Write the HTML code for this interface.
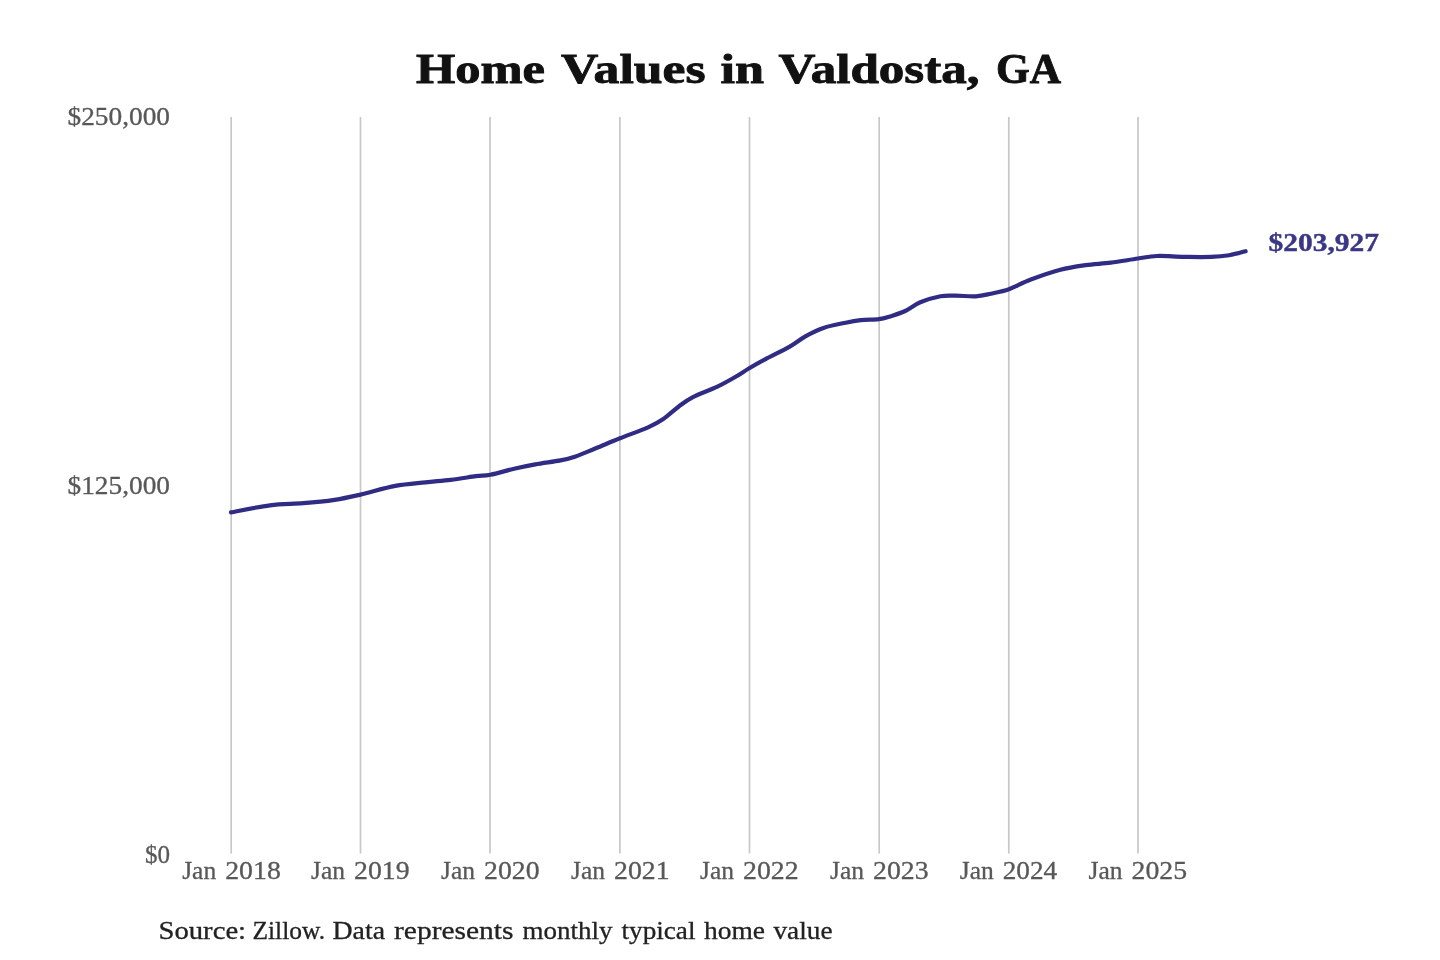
<!DOCTYPE html>
<html><head><meta charset="utf-8"><style>
html,body{margin:0;padding:0;background:#fff;width:1440px;height:960px;overflow:hidden}
svg{position:absolute;left:0;top:0;display:block;will-change:transform}
text{font-family:"Liberation Serif",serif}
</style></head><body>
<svg width="1440" height="960" viewBox="0 0 1440 960">
<rect width="1440" height="960" fill="#fff"/>
<g stroke="#c8c8c8" stroke-width="1.7">
<line x1="231.20" y1="117" x2="231.20" y2="853.5" />
<line x1="360.50" y1="117" x2="360.50" y2="853.5" />
<line x1="490.00" y1="117" x2="490.00" y2="853.5" />
<line x1="619.90" y1="117" x2="619.90" y2="853.5" />
<line x1="749.50" y1="117" x2="749.50" y2="853.5" />
<line x1="879.20" y1="117" x2="879.20" y2="853.5" />
<line x1="1008.80" y1="117" x2="1008.80" y2="853.5" />
<line x1="1138.00" y1="117" x2="1138.00" y2="853.5" />
</g>
<path d="M231.0 512.4 C237.5 511.2 257.9 506.8 270.0 505.3 C282.1 503.8 292.5 504.1 303.3 503.2 C314.1 502.3 325.1 501.2 334.6 499.8 C344.1 498.4 350.4 496.9 360.5 494.6 C370.6 492.3 384.5 487.9 395.3 485.9 C406.1 483.8 416.3 483.3 425.5 482.3 C434.7 481.3 442.3 480.8 450.7 479.8 C459.1 478.8 469.2 477.1 475.8 476.2 C482.4 475.3 483.8 476.0 490.4 474.7 C497.0 473.4 507.7 470.2 515.2 468.5 C522.7 466.8 527.8 465.8 535.3 464.4 C542.8 463.0 553.8 461.7 560.5 460.4 C567.2 459.1 569.7 458.4 575.6 456.4 C581.5 454.4 588.4 451.3 595.8 448.3 C603.2 445.3 611.2 441.8 620.0 438.3 C628.8 434.8 641.5 430.3 648.6 427.1 C655.8 423.9 657.9 422.7 662.9 419.3 C667.9 415.9 673.5 410.4 678.5 406.7 C683.5 403.0 686.5 400.4 692.9 397.1 C699.3 393.8 709.9 390.2 716.9 386.9 C723.9 383.6 729.4 380.4 734.8 377.3 C740.2 374.2 744.2 371.3 749.2 368.3 C754.2 365.3 758.4 362.9 765.1 359.3 C771.8 355.7 782.6 350.6 789.3 346.8 C796.0 343.0 799.7 339.5 805.4 336.3 C811.1 333.1 816.8 330.2 823.5 327.9 C830.2 325.6 839.5 324.0 845.7 322.7 C851.9 321.4 855.3 320.8 860.8 320.2 C866.3 319.6 874.0 319.8 878.9 319.2 C883.8 318.6 885.7 317.8 890.1 316.4 C894.5 315.0 900.2 313.4 905.2 311.0 C910.2 308.6 914.4 304.8 920.3 302.3 C926.2 299.9 934.6 297.4 940.5 296.3 C946.4 295.2 949.7 295.7 955.6 295.7 C961.5 295.7 969.8 296.6 975.7 296.3 C981.6 296.0 985.3 294.9 990.8 293.7 C996.3 292.5 1002.3 291.5 1008.9 289.2 C1015.5 286.9 1021.6 283.0 1030.2 279.8 C1038.8 276.6 1051.2 272.2 1060.4 269.8 C1069.6 267.4 1077.2 266.4 1085.6 265.2 C1094.0 264.0 1102.0 263.8 1110.7 262.7 C1119.4 261.6 1130.2 259.6 1137.9 258.5 C1145.6 257.4 1149.4 256.3 1157.1 256.0 C1164.8 255.7 1175.2 256.8 1184.2 256.9 C1193.2 257.0 1203.7 257.2 1211.2 256.9 C1218.7 256.6 1223.6 256.1 1229.3 255.2 C1235.0 254.2 1242.9 251.9 1245.6 251.2" fill="none" stroke="#302c84" stroke-width="4.2" stroke-linecap="round" stroke-linejoin="round"/>
<text x="416.0" y="83.0" font-size="43" font-weight="bold" fill="#111" stroke="#111" stroke-width="0.9" textLength="129.0" lengthAdjust="spacingAndGlyphs">Home</text>
<text x="561.0" y="83.0" font-size="43" font-weight="bold" fill="#111" stroke="#111" stroke-width="0.9" textLength="144.5" lengthAdjust="spacingAndGlyphs">Values</text>
<text x="720.5" y="83.0" font-size="43" font-weight="bold" fill="#111" stroke="#111" stroke-width="0.9" textLength="43.5" lengthAdjust="spacingAndGlyphs">in</text>
<text x="778.5" y="83.0" font-size="43" font-weight="bold" fill="#111" stroke="#111" stroke-width="0.9" textLength="201.0" lengthAdjust="spacingAndGlyphs">Valdosta,</text>
<text x="996.0" y="83.0" font-size="43" font-weight="bold" fill="#111" stroke="#111" stroke-width="0.9" textLength="65.0" lengthAdjust="spacingAndGlyphs">GA</text>
<text x="67.5" y="124.6" font-size="25" fill="#585858" stroke="#585858" stroke-width="0.3" textLength="102.5" lengthAdjust="spacingAndGlyphs">$250,000</text>
<text x="67.5" y="493.8" font-size="25" fill="#585858" stroke="#585858" stroke-width="0.3" textLength="102.5" lengthAdjust="spacingAndGlyphs">$125,000</text>
<text x="144.9" y="863.3" font-size="25" fill="#585858" stroke="#585858" stroke-width="0.3" textLength="25.1" lengthAdjust="spacingAndGlyphs">$0</text>
<text x="182.2" y="879.3" font-size="25" fill="#585858" stroke="#585858" stroke-width="0.3" textLength="34.0" lengthAdjust="spacingAndGlyphs">Jan</text>
<text x="225.2" y="879.3" font-size="25" fill="#585858" stroke="#585858" stroke-width="0.3" textLength="55.6" lengthAdjust="spacingAndGlyphs">2018</text>
<text x="311.0" y="879.3" font-size="25" fill="#585858" stroke="#585858" stroke-width="0.3" textLength="34.0" lengthAdjust="spacingAndGlyphs">Jan</text>
<text x="354.0" y="879.3" font-size="25" fill="#585858" stroke="#585858" stroke-width="0.3" textLength="55.6" lengthAdjust="spacingAndGlyphs">2019</text>
<text x="441.0" y="879.3" font-size="25" fill="#585858" stroke="#585858" stroke-width="0.3" textLength="34.0" lengthAdjust="spacingAndGlyphs">Jan</text>
<text x="484.0" y="879.3" font-size="25" fill="#585858" stroke="#585858" stroke-width="0.3" textLength="55.5" lengthAdjust="spacingAndGlyphs">2020</text>
<text x="571.0" y="879.3" font-size="25" fill="#585858" stroke="#585858" stroke-width="0.3" textLength="34.0" lengthAdjust="spacingAndGlyphs">Jan</text>
<text x="614.0" y="879.3" font-size="25" fill="#585858" stroke="#585858" stroke-width="0.3" textLength="55.6" lengthAdjust="spacingAndGlyphs">2021</text>
<text x="700.0" y="879.3" font-size="25" fill="#585858" stroke="#585858" stroke-width="0.3" textLength="34.0" lengthAdjust="spacingAndGlyphs">Jan</text>
<text x="743.0" y="879.3" font-size="25" fill="#585858" stroke="#585858" stroke-width="0.3" textLength="55.6" lengthAdjust="spacingAndGlyphs">2022</text>
<text x="830.0" y="879.3" font-size="25" fill="#585858" stroke="#585858" stroke-width="0.3" textLength="34.0" lengthAdjust="spacingAndGlyphs">Jan</text>
<text x="873.0" y="879.3" font-size="25" fill="#585858" stroke="#585858" stroke-width="0.3" textLength="55.6" lengthAdjust="spacingAndGlyphs">2023</text>
<text x="959.8" y="879.3" font-size="25" fill="#585858" stroke="#585858" stroke-width="0.3" textLength="34.0" lengthAdjust="spacingAndGlyphs">Jan</text>
<text x="1002.7" y="879.3" font-size="25" fill="#585858" stroke="#585858" stroke-width="0.3" textLength="54.5" lengthAdjust="spacingAndGlyphs">2024</text>
<text x="1088.5" y="879.3" font-size="25" fill="#585858" stroke="#585858" stroke-width="0.3" textLength="34.0" lengthAdjust="spacingAndGlyphs">Jan</text>
<text x="1131.5" y="879.3" font-size="25" fill="#585858" stroke="#585858" stroke-width="0.3" textLength="55.6" lengthAdjust="spacingAndGlyphs">2025</text>
<text x="1268.5" y="250.6" font-size="25" font-weight="bold" fill="#3a3785" stroke="#3a3785" stroke-width="0.4" textLength="110.5" lengthAdjust="spacingAndGlyphs">$203,927</text>
<text x="158.5" y="938.8" font-size="25" fill="#222" stroke="#222" stroke-width="0.3" textLength="87.6" lengthAdjust="spacingAndGlyphs">Source:</text>
<text x="252.5" y="938.8" font-size="25" fill="#222" stroke="#222" stroke-width="0.3" textLength="72.6" lengthAdjust="spacingAndGlyphs">Zillow.</text>
<text x="332.5" y="938.8" font-size="25" fill="#222" stroke="#222" stroke-width="0.3" textLength="52.5" lengthAdjust="spacingAndGlyphs">Data</text>
<text x="394.0" y="938.8" font-size="25" fill="#222" stroke="#222" stroke-width="0.3" textLength="119.5" lengthAdjust="spacingAndGlyphs">represents</text>
<text x="522.5" y="938.8" font-size="25" fill="#222" stroke="#222" stroke-width="0.3" textLength="90.0" lengthAdjust="spacingAndGlyphs">monthly</text>
<text x="621.5" y="938.8" font-size="25" fill="#222" stroke="#222" stroke-width="0.3" textLength="74.0" lengthAdjust="spacingAndGlyphs">typical</text>
<text x="704.0" y="938.8" font-size="25" fill="#222" stroke="#222" stroke-width="0.3" textLength="61.0" lengthAdjust="spacingAndGlyphs">home</text>
<text x="773.5" y="938.8" font-size="25" fill="#222" stroke="#222" stroke-width="0.3" textLength="59.0" lengthAdjust="spacingAndGlyphs">value</text>
</svg>
</body></html>
